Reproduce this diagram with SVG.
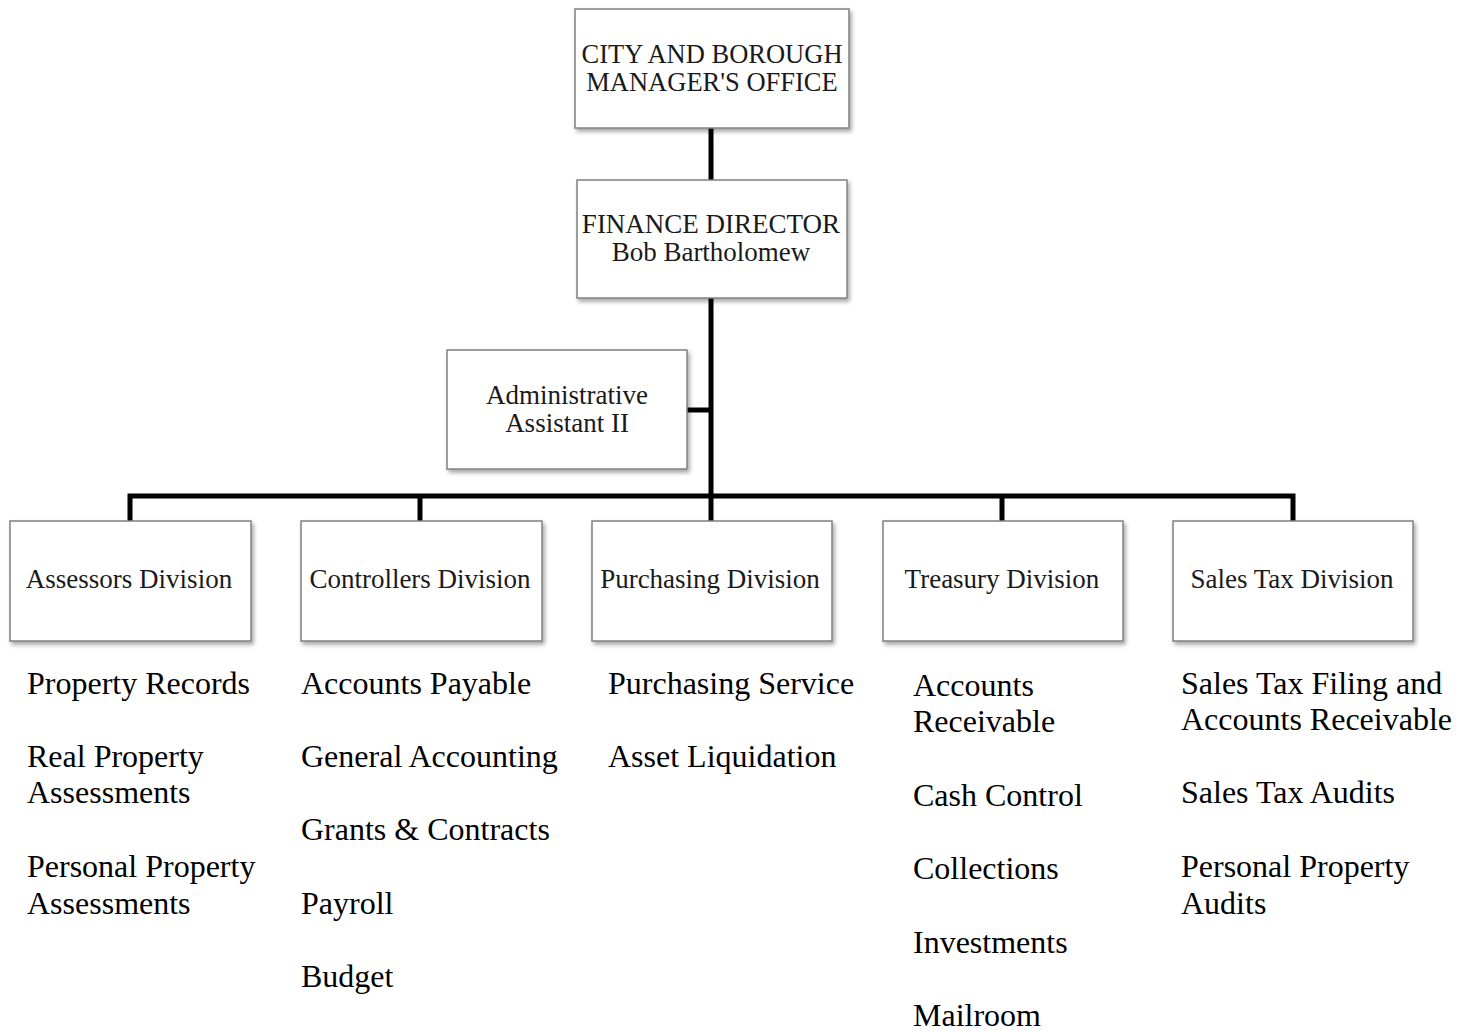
<svg xmlns="http://www.w3.org/2000/svg" width="1473" height="1032" viewBox="0 0 1473 1032">
  <defs>
    <filter id="sh" x="-10%" y="-10%" width="125%" height="130%">
      <feDropShadow dx="2" dy="3" stdDeviation="2" flood-color="#000" flood-opacity="0.35"/>
    </filter>
  </defs>
  <style>
    .box { fill: #ffffff; stroke: #808080; stroke-width: 1.5; filter: url(#sh); }
    .bt { font-family: "Liberation Serif", "Times New Roman", serif; font-size: 27px; fill: #1a1a1a; text-anchor: middle; }
    .top { font-size: 26.5px; }
    .lt { font-family: "Liberation Serif", "Times New Roman", serif; font-size: 32px; fill: #000000; }
    .conn { fill: none; stroke: #000000; stroke-width: 5; stroke-linejoin: miter; stroke-linecap: butt; }
  </style>
  <rect width="1473" height="1032" fill="#ffffff"/>

  <g id="connectors">
    <path class="conn" d="M711 128 V496"/>
    <path class="conn" d="M687 410 H711"/>
    <path class="conn" d="M130 521 V496 H1293 V521"/>
    <path class="conn" d="M420 496 V521"/>
    <path class="conn" d="M711 496 V521"/>
    <path class="conn" d="M1002 496 V521"/>
  </g>

  <g id="manager">
    <rect class="box" x="575" y="9" width="274" height="119"/>
    <text class="bt top" x="712" y="63">CITY AND BOROUGH</text>
    <text class="bt top" x="712" y="91">MANAGER'S OFFICE</text>
  </g>

  <g id="finance">
    <rect class="box" x="577" y="180" width="270" height="118"/>
    <text class="bt" x="711" y="233">FINANCE DIRECTOR</text>
    <text class="bt" x="711" y="261">Bob Bartholomew</text>
  </g>

  <g id="admin">
    <rect class="box" x="447" y="350" width="240" height="119"/>
    <text class="bt" x="567" y="404">Administrative</text>
    <text class="bt" x="567" y="432">Assistant II</text>
  </g>

  <g id="assessors">
    <rect class="box" x="10" y="521" width="241" height="120"/>
    <text class="bt" x="129" y="588">Assessors Division</text>
    <text class="lt" x="27" y="694">Property Records</text>
    <text class="lt" x="27" y="767">Real Property</text>
    <text class="lt" x="27" y="803">Assessments</text>
    <text class="lt" x="27" y="877">Personal Property</text>
    <text class="lt" x="27" y="914">Assessments</text>
  </g>

  <g id="controllers">
    <rect class="box" x="301" y="521" width="241" height="120"/>
    <text class="bt" x="420" y="588">Controllers Division</text>
    <text class="lt" x="301" y="694">Accounts Payable</text>
    <text class="lt" x="301" y="767">General Accounting</text>
    <text class="lt" x="301" y="840">Grants &amp; Contracts</text>
    <text class="lt" x="301" y="914">Payroll</text>
    <text class="lt" x="301" y="987">Budget</text>
  </g>

  <g id="purchasing">
    <rect class="box" x="592" y="521" width="240" height="120"/>
    <text class="bt" x="710" y="588">Purchasing Division</text>
    <text class="lt" x="608" y="694">Purchasing Service</text>
    <text class="lt" x="608" y="767">Asset Liquidation</text>
  </g>

  <g id="treasury">
    <rect class="box" x="883" y="521" width="240" height="120"/>
    <text class="bt" x="1002" y="588">Treasury Division</text>
    <text class="lt" x="913" y="696">Accounts</text>
    <text class="lt" x="913" y="732">Receivable</text>
    <text class="lt" x="913" y="806">Cash Control</text>
    <text class="lt" x="913" y="879">Collections</text>
    <text class="lt" x="913" y="953">Investments</text>
    <text class="lt" x="913" y="1026">Mailroom</text>
  </g>

  <g id="salestax">
    <rect class="box" x="1173" y="521" width="240" height="120"/>
    <text class="bt" x="1292" y="588">Sales Tax Division</text>
    <text class="lt" x="1181" y="694">Sales Tax Filing and</text>
    <text class="lt" x="1181" y="730">Accounts Receivable</text>
    <text class="lt" x="1181" y="803">Sales Tax Audits</text>
    <text class="lt" x="1181" y="877">Personal Property</text>
    <text class="lt" x="1181" y="914">Audits</text>
  </g>
</svg>
